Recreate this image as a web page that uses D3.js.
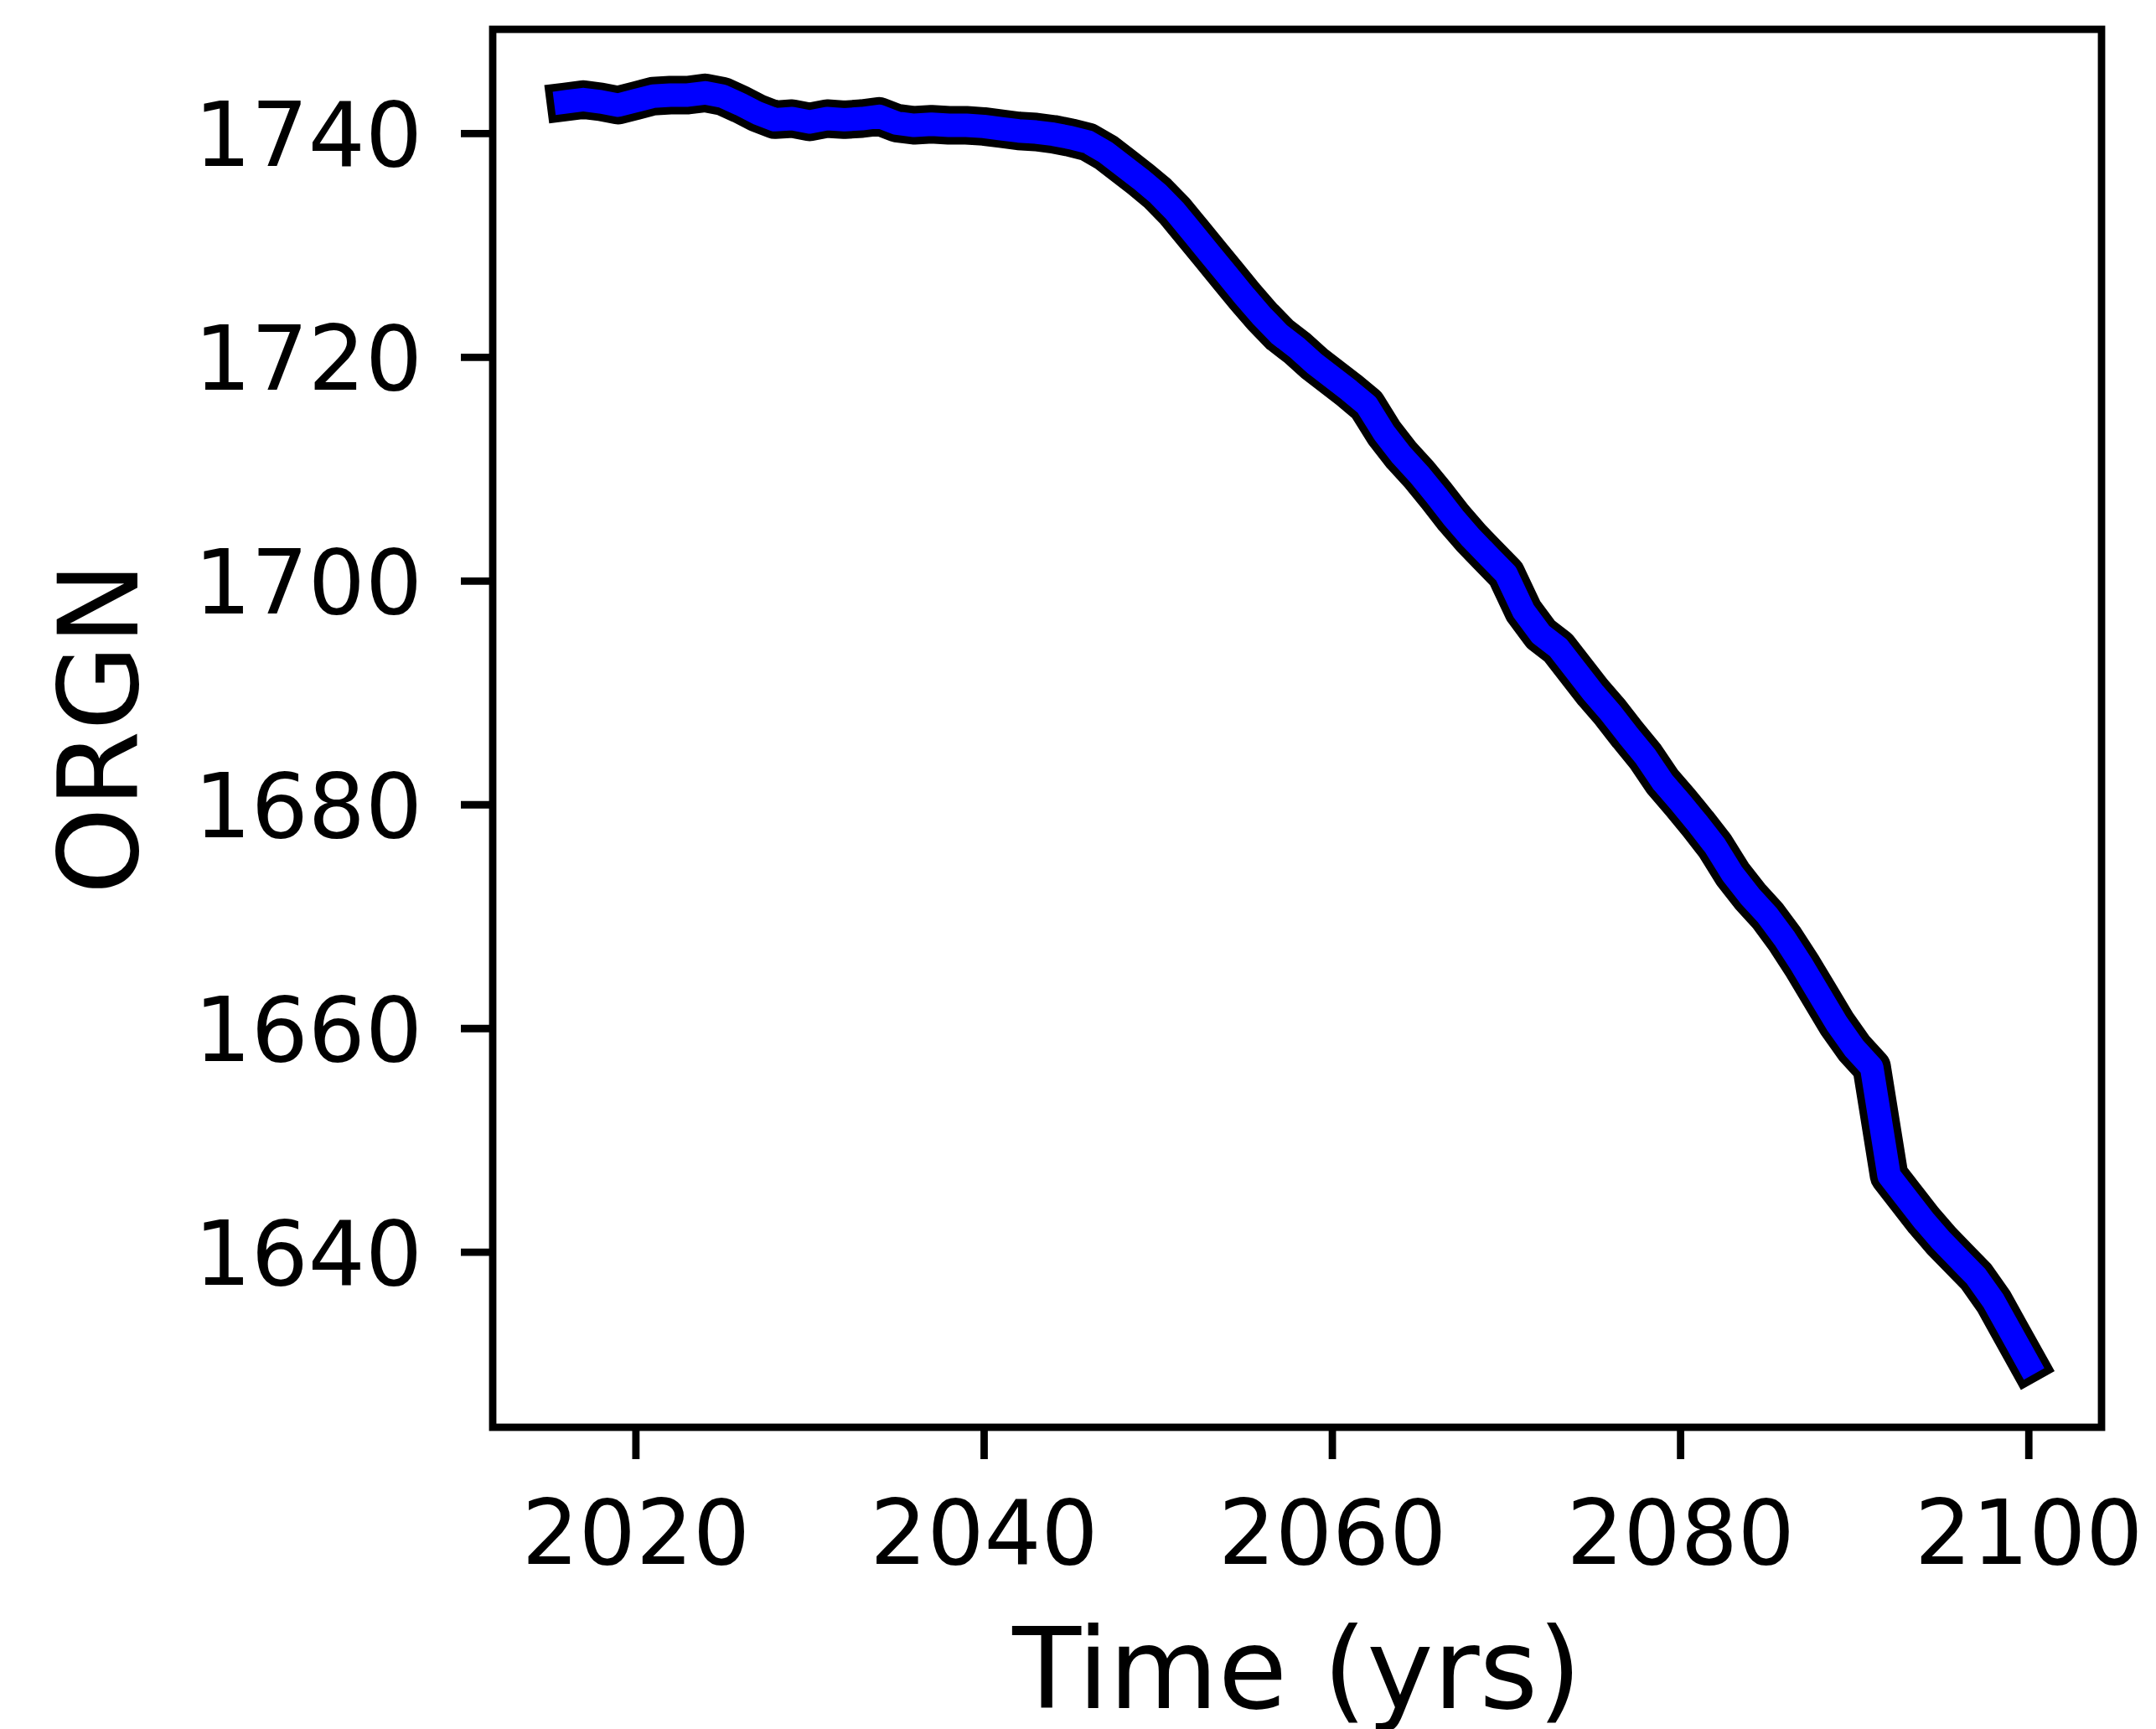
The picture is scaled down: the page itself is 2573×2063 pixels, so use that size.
<!DOCTYPE html>
<html>
<head>
<meta charset="utf-8">
<script src="https://d3js.org/d3.v7.min.js"></script>
<style>
    body { margin: 0; background: #ffffff; }
    text { font-family: "DejaVu Sans", sans-serif; fill: #000000; }
</style>
</head>
<body>
<div id="plot-area"><svg></svg></div>
<script>

// data declaration
const years = [
    2016, 2017, 2018, 2019, 2020, 2021, 2022, 2023, 2024, 2025,
    2026, 2027, 2028, 2029, 2030, 2031, 2032, 2033, 2034, 2035,
    2036, 2037, 2038, 2039, 2040, 2041, 2042, 2043, 2044, 2045,
    2046, 2047, 2048, 2049, 2050, 2051, 2052, 2053, 2054, 2055,
    2056, 2057, 2058, 2059, 2060, 2061, 2062, 2063, 2064, 2065,
    2066, 2067, 2068, 2069, 2070, 2071, 2072, 2073, 2074, 2075,
    2076, 2077, 2078, 2079, 2080, 2081, 2082, 2083, 2084, 2085,
    2086, 2087, 2088, 2089, 2090, 2091, 2092, 2093, 2094, 2095,
    2096, 2097, 2098, 2099, 2100
];

const orgn = [
    1742.8, 1743.0, 1742.8, 1742.5, 1742.9, 1743.3, 1743.4, 1743.4, 1743.6, 1743.3,
    1742.6, 1741.8, 1741.2, 1741.3, 1741.0, 1741.3, 1741.2, 1741.3, 1741.5, 1740.9,
    1740.7, 1740.8, 1740.7, 1740.7, 1740.6, 1740.4, 1740.2, 1740.1, 1739.9, 1739.6,
    1739.2, 1738.3, 1737.1, 1735.9, 1734.6, 1733.0, 1731.1, 1729.2, 1727.3, 1725.4,
    1723.6, 1722.0, 1720.8, 1719.4, 1718.2, 1717.0, 1715.7, 1713.2, 1711.2, 1709.5,
    1707.6, 1705.6, 1703.8, 1702.2, 1700.6, 1697.3, 1695.2, 1694.0, 1692.0, 1690.0,
    1688.2, 1686.2, 1684.3, 1682.0, 1680.2, 1678.3, 1676.3, 1673.8, 1671.8, 1670.1,
    1668.0, 1665.6, 1663.0, 1660.4, 1658.2, 1656.5, 1646.8, 1644.8, 1642.8, 1641.0,
    1639.4, 1637.8, 1635.6, 1632.8, 1630.0
];

const xTicks = [2020, 2040, 2060, 2080, 2100];
const yTicks = [1640, 1660, 1680, 1700, 1720, 1740];

const xLabel = 'Time (yrs)';
const yLabel = 'ORGN';

const blue = '#0000ff';

function drawPlot() {

// viewport
    let W = 2573, H = 2063;
    let box = {left: 588, right: 2508, top: 35, bottom: 1703};

    let dataset = years.map(function (d, i) {
        return {xValue: d, yValue: orgn[i]};
    });

// matplotlib style 5% margins round the data
    function padded(ext) {
        let m = (ext[1] - ext[0]) * 0.05;
        return [ext[0] - m, ext[1] + m];
    }

    let x = d3.scaleLinear()
        .domain(padded(d3.extent(dataset, d => d.xValue)))
        .range([box.left, box.right]);
    let y = d3.scaleLinear()
        .domain(padded(d3.extent(dataset, d => d.yValue)))
        .range([box.bottom, box.top]);

    const valueline = d3.line()
        .x(function (d) { return x(d.xValue); })
        .y(function (d) { return y(d.yValue); });

    let svg = d3.select('#plot-area').select('svg')
        .attr('width', W)
        .attr('height', H);

    svg.append('rect')
        .attr('width', W)
        .attr('height', H)
        .attr('fill', '#ffffff');

// black outline under the blue line
    svg.append('path')
        .datum(dataset)
        .attr('fill', 'none')
        .attr('stroke', '#000000')
        .attr('stroke-width', 46)
        .attr('stroke-linecap', 'square')
        .attr('stroke-linejoin', 'round')
        .attr('d', valueline);

    svg.append('path')
        .datum(dataset)
        .attr('fill', 'none')
        .attr('stroke', blue)
        .attr('stroke-width', 28)
        .attr('stroke-linecap', 'square')
        .attr('stroke-linejoin', 'round')
        .attr('d', valueline);

// Add the X Axis
    let xAxis = svg.append('g')
        .attr('class', 'xaxis')
        .attr('transform', 'translate(0,' + box.bottom + ')')
        .call(d3.axisBottom(x)
            .tickValues(xTicks)
            .tickFormat(d3.format('d'))
            .tickSize(38)
            .tickPadding(46));

// Add the Y Axis
    let yAxis = svg.append('g')
        .attr('class', 'yaxis')
        .attr('transform', 'translate(' + box.left + ',0)')
        .call(d3.axisLeft(y)
            .tickValues(yTicks)
            .tickFormat(d3.format('d'))
            .tickSize(38)
            .tickPadding(46));

    [xAxis, yAxis].forEach(function (a) {
        a.select('.domain').remove();
        a.selectAll('.tick line')
            .attr('stroke', '#000000')
            .attr('stroke-width', 8.8);
        a.selectAll('.tick text')
            .attr('font-family', '"DejaVu Sans", sans-serif')
            .attr('font-size', '107px')
            .attr('fill', '#000000');
    });

    xAxis.selectAll('.tick text').attr('dy', '0.74em');
    yAxis.selectAll('.tick text').attr('dy', '0.36em');

// axes frame
    svg.append('rect')
        .attr('x', box.left)
        .attr('y', box.top)
        .attr('width', box.right - box.left)
        .attr('height', box.bottom - box.top)
        .attr('fill', 'none')
        .attr('stroke', '#000000')
        .attr('stroke-width', 8.8);

// Labelling
    svg.append('text')
        .attr('x', (box.left + box.right) / 2)
        .attr('y', 2038)
        .attr('text-anchor', 'middle')
        .attr('font-size', '134px')
        .text(xLabel);

    svg.append('text')
        .attr('transform', 'translate(164,' + (box.top + box.bottom) / 2 + ') rotate(-90)')
        .attr('text-anchor', 'middle')
        .attr('font-size', '132px')
        .text(yLabel);
}

drawPlot();
</script>
</body>
</html>
